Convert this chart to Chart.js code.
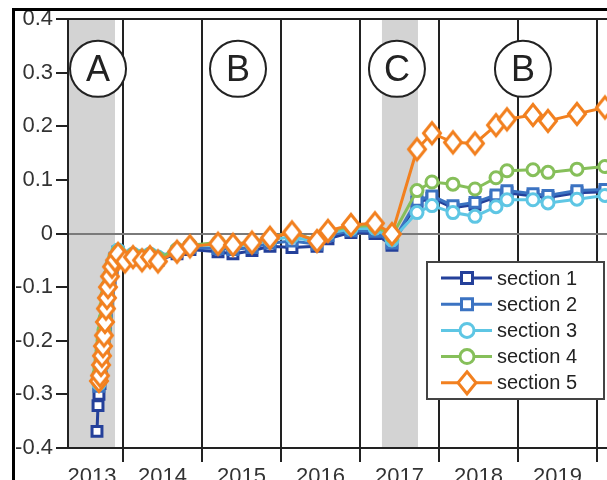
<!DOCTYPE html>
<html>
<head>
<meta charset="utf-8">
<script src="https://cdn.jsdelivr.net/npm/chart.js@4.4.1/dist/chart.umd.min.js"></script>
<style>
  html, body { margin: 0; padding: 0; background: #fff; overflow: hidden; }
  #wrap { position: relative; width: 607px; height: 480px; }
</style>
</head>
<body>
<div id="wrap"><canvas id="chart" width="607" height="480"></canvas></div>
<script>
// --- data (time in decimal years) ---
const dates = [
  2013.671, 2013.684, 2013.696, 2013.709, 2013.722, 2013.734, 2013.747, 2013.759,
  2013.772, 2013.785, 2013.797, 2013.810, 2013.835, 2013.861, 2013.899, 2013.937,
  2014.025, 2014.127, 2014.241, 2014.342, 2014.443, 2014.684, 2014.848, 2015.203,
  2015.392, 2015.633, 2015.861, 2016.139, 2016.456, 2016.595, 2016.886, 2017.190,
  2017.405, 2017.722, 2017.911, 2018.177, 2018.456, 2018.722, 2018.861, 2019.190,
  2019.380, 2019.747, 2020.101
];
const section1 = [
  -0.369, -0.321, -0.300, -0.280, -0.260, -0.240, -0.220, -0.200,
  -0.175, -0.150, -0.128, -0.108, -0.085, -0.065, -0.048, -0.036,
  -0.050, -0.045, -0.049, -0.045, -0.050, -0.038, -0.030, -0.034,
  -0.038, -0.032, -0.024, -0.026, -0.024, -0.010, 0.002, 0.000,
  -0.022, 0.058, 0.066, 0.048, 0.054, 0.068, 0.076, 0.070,
  0.067, 0.076, 0.078
];
const section2 = [
  null, null, -0.285, -0.270, -0.252, -0.232, -0.212, -0.192,
  -0.170, -0.145, -0.124, -0.104, -0.083, -0.063, -0.046, -0.034,
  -0.047, -0.042, -0.046, -0.042, -0.047, -0.034, -0.026, -0.028,
  -0.030, -0.026, -0.018, -0.014, -0.020, -0.004, 0.005, 0.004,
  -0.018, 0.062, 0.070, 0.052, 0.058, 0.072, 0.080, 0.074,
  0.071, 0.080, 0.082
];
const section3 = [
  null, null, -0.280, -0.268, -0.250, -0.230, -0.210, -0.190,
  -0.168, -0.142, -0.121, -0.101, -0.080, -0.060, -0.043, -0.031,
  -0.044, -0.038, -0.042, -0.038, -0.044, -0.030, -0.022, -0.022,
  -0.024, -0.020, -0.012, -0.006, -0.016, 0.000, 0.009, 0.010,
  -0.012, 0.039, 0.052, 0.039, 0.032, 0.050, 0.063, 0.063,
  0.057, 0.064, 0.071
];
const section4 = [
  null, null, -0.262, -0.252, -0.236, -0.218, -0.200, -0.180,
  -0.158, -0.135, -0.115, -0.097, -0.078, -0.060, -0.045, -0.034,
  -0.046, -0.040, -0.044, -0.040, -0.046, -0.030, -0.022, -0.017,
  -0.020, -0.016, -0.007, 0.002, -0.013, 0.004, 0.013, 0.015,
  -0.005, 0.080, 0.096, 0.092, 0.083, 0.104, 0.117, 0.119,
  0.114, 0.120, 0.125
];
const section5 = [
  null, null, -0.275, -0.265, -0.245, -0.228, -0.210, -0.190,
  -0.165, -0.140, -0.120, -0.100, -0.080, -0.062, -0.050, -0.038,
  -0.052, -0.044, -0.050, -0.044, -0.052, -0.034, -0.024, -0.019,
  -0.021, -0.017, -0.008, 0.002, -0.014, 0.005, 0.016, 0.019,
  -0.001, 0.157, 0.187, 0.170, 0.168, 0.202, 0.213, 0.221,
  0.210, 0.223, 0.235
];

const seriesNames = ['section 1', 'section 2', 'section 3', 'section 4', 'section 5'];
const seriesColors = ['#24409a', '#3b73c2', '#5ec6e4', '#86bf5a', '#f2801f'];
const seriesMarkers = ['rect', 'rect', 'circle', 'circle', 'diamond'];
const markerRadius = [7, 7, 6, 6, 9];

const yTicks = [-0.4, -0.3, -0.2, -0.1, 0, 0.1, 0.2, 0.3, 0.4];
const yearLines = [2014, 2015, 2016, 2017, 2018, 2019, 2020];
const yearLabels = ['2013', '2014', '2015', '2016', '2017', '2018', '2019'];
const yearLabelPos = [2013.608, 2014.5, 2015.5, 2016.5, 2017.5, 2018.5, 2019.5];
const xMin = 2013.304, xMax = 2020.127;

const shadedPeriods = [[2013.304, 2013.899], [2017.278, 2017.734]];
const zoneLetters = ['A', 'B', 'C', 'B'];
const zoneX = [2013.684, 2015.456, 2017.468, 2019.063];
const zoneY = 0.307;

const FONT = '"Liberation Sans", Arial, Helvetica, sans-serif';
const INK = '#222';

// --- helpers ---
function isYearLine(v) {
  return yearLines.some(y => Math.abs(y - v) < 1e-6);
}

function drawMarker(c, style, x, y, w, h, color) {
  c.save();
  c.fillStyle = '#fff';
  c.strokeStyle = color;
  c.lineWidth = 3;
  c.beginPath();
  if (style === 'rect') {
    c.rect(x - w, y - h, 2 * w, 2 * h);
  } else if (style === 'circle') {
    c.arc(x, y, w, 0, Math.PI * 2);
  } else {
    c.moveTo(x, y - h); c.lineTo(x + w, y); c.lineTo(x, y + h); c.lineTo(x - w, y); c.closePath();
  }
  c.fill();
  c.stroke();
  c.restore();
}

// slightly tall diamond used as point image for section 5
function diamondImage(color) {
  const cv = document.createElement('canvas');
  cv.width = 24; cv.height = 28;
  drawMarker(cv.getContext('2d'), 'diamond', 12, 14, 8.5, 10.5, color);
  return cv;
}

// --- extra drawing: bands, frame, zone circles, legend box ---
const decorPlugin = {
  id: 'decor',
  beforeDraw(chart) {
    const c = chart.ctx, a = chart.chartArea, xs = chart.scales.x;
    c.save();
    c.fillStyle = '#fff';
    c.fillRect(0, 0, chart.width, chart.height);
    c.fillStyle = '#d3d3d3';
    shadedPeriods.forEach(p => {
      const x0 = xs.getPixelForValue(p[0]), x1 = xs.getPixelForValue(p[1]);
      c.fillRect(x0, a.top, x1 - x0, a.bottom - a.top);
    });
    c.restore();
  },
  afterDraw(chart) {
    const c = chart.ctx, a = chart.chartArea, xs = chart.scales.x, ys = chart.scales.y;
    c.save();
    // top border of the plot
    c.strokeStyle = INK;
    c.lineWidth = 2;
    c.beginPath(); c.moveTo(a.left - 1, a.top); c.lineTo(a.right, a.top); c.stroke();
    // outer panel frame
    c.fillStyle = '#000';
    c.fillRect(12, 8, chart.width - 12, 3);
    c.fillRect(12, 8, 3, chart.height - 8);

    // circled zone letters
    zoneLetters.forEach((t, i) => {
      const cx = xs.getPixelForValue(zoneX[i]), cy = ys.getPixelForValue(zoneY);
      c.beginPath();
      c.arc(cx, cy, 28, 0, Math.PI * 2);
      c.fillStyle = '#fff';
      c.fill();
      c.lineWidth = 2;
      c.strokeStyle = INK;
      c.stroke();
      c.fillStyle = INK;
      c.font = '36px ' + FONT;
      c.textAlign = 'center';
      c.textBaseline = 'middle';
      c.fillText(t, cx, cy + 2);
    });

    // legend box
    const bx = 427, by = 262, bw = 177, bh = 137;
    c.fillStyle = '#fff';
    c.fillRect(bx, by, bw, bh);
    c.strokeStyle = '#444';
    c.lineWidth = 2;
    c.strokeRect(bx, by, bw, bh);
    chart.data.datasets.forEach((ds, i) => {
      const ly = 278 + i * 26.2;
      c.strokeStyle = ds.borderColor;
      c.lineWidth = 3;
      c.beginPath(); c.moveTo(441, ly); c.lineTo(492, ly); c.stroke();
      const st = seriesMarkers[i];
      if (st === 'rect') drawMarker(c, st, 467, ly, 5.5, 5.5, ds.borderColor);
      else if (st === 'circle') drawMarker(c, st, 467, ly, 7, 7, ds.borderColor);
      else drawMarker(c, st, 467, ly, 9, 11, ds.borderColor);
      c.fillStyle = INK;
      c.font = '20px ' + FONT;
      c.textAlign = 'left';
      c.textBaseline = 'middle';
      c.fillText(ds.label, 497, ly + 1);
    });
    c.restore();
  }
};

const allSeries = [section1, section2, section3, section4, section5];
const datasets = allSeries.map((vals, i) => ({
  label: seriesNames[i],
  data: dates.map((d, j) => ({ x: d, y: vals[j] })).filter(p => p.y !== null),
  borderColor: seriesColors[i],
  backgroundColor: '#fff',
  pointBackgroundColor: '#fff',
  pointBorderColor: seriesColors[i],
  pointStyle: seriesMarkers[i] === 'diamond' ? diamondImage(seriesColors[i]) : seriesMarkers[i],
  pointRadius: markerRadius[i],
  pointBorderWidth: 3,
  borderWidth: 3,
  tension: 0,
  order: 4 - i
}));

new Chart(document.getElementById('chart').getContext('2d'), {
  type: 'line',
  data: { datasets },
  plugins: [decorPlugin],
  options: {
    responsive: false,
    animation: false,
    layout: { autoPadding: false, padding: { top: 19, left: 0, right: 0, bottom: 0 } },
    plugins: { legend: { display: false }, tooltip: { enabled: false } },
    scales: {
      x: {
        type: 'linear',
        min: xMin,
        max: xMax,
        afterBuildTicks: s => {
          s.ticks = yearLines.concat(yearLabelPos).sort((p, q) => p - q).map(v => ({ value: v }));
        },
        afterFit: s => { s.height = 32; s.paddingLeft = 0; s.paddingRight = 0; },
        ticks: {
          autoSkip: false,
          maxRotation: 0,
          minRotation: 0,
          padding: 2,
          color: '#333',
          font: { family: FONT, size: 22 },
          callback: v => {
            const k = yearLabelPos.findIndex(p => Math.abs(p - v) < 1e-6);
            return k >= 0 ? yearLabels[k] : '';
          }
        },
        grid: {
          color: c => (c.tick && isYearLine(c.tick.value)) ? INK : 'rgba(0,0,0,0)',
          tickColor: c => (c.tick && isYearLine(c.tick.value)) ? INK : 'rgba(0,0,0,0)',
          lineWidth: 2,
          tickLength: 14
        },
        border: { display: true, color: INK, width: 2 }
      },
      y: {
        min: -0.4,
        max: 0.4,
        afterBuildTicks: s => { s.ticks = yTicks.map(v => ({ value: v })); },
        afterFit: s => { s.width = 68; s.paddingTop = 0; s.paddingBottom = 0; },
        ticks: {
          padding: 3,
          color: '#333',
          font: { family: FONT, size: 22 },
          callback: v => (Math.abs(v) < 1e-9 ? '0' : (Math.round(v * 10) / 10).toFixed(1))
        },
        grid: {
          color: c => (c.tick && Math.abs(c.tick.value) < 1e-9) ? '#7a7a7a' : 'rgba(0,0,0,0)',
          tickColor: INK,
          lineWidth: 2,
          tickLength: 12
        },
        border: { display: true, color: INK, width: 2 }
      }
    }
  }
});
</script>
</body>
</html>
